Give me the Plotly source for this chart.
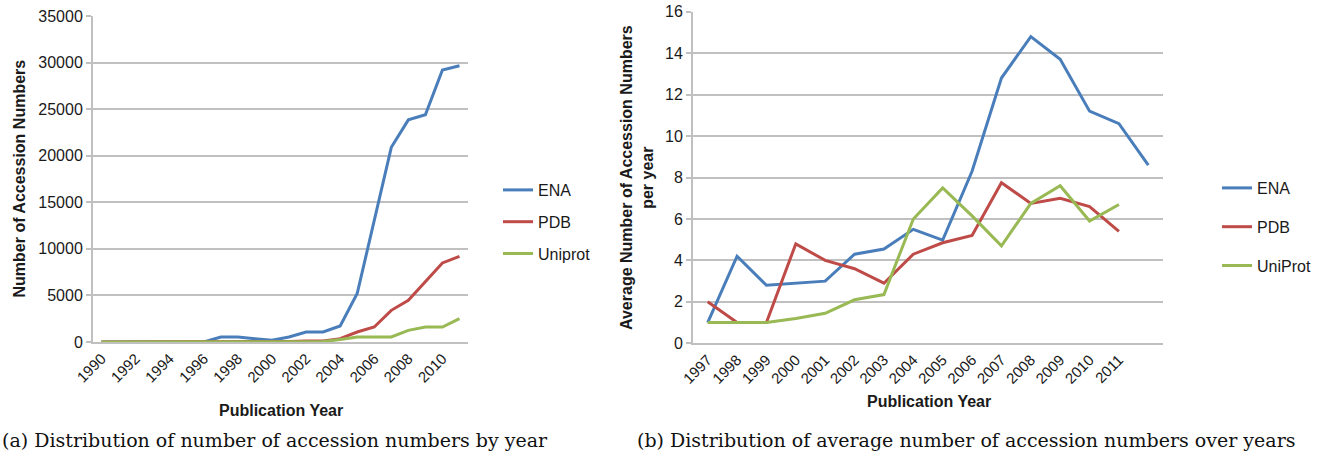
import plotly.graph_objects as go

# (a) total accession numbers per publication year
years_a = list(range(1990, 2012))
ena_total = [0, 0, 0, 0, 0, 0, 0, 540, 540, 360, 180, 540, 1070, 1070, 1720,
             5200, 13000, 20900, 23850, 24400, 29200, 29650]
pdb_total = [0, 0, 0, 0, 0, 0, 0, 20, 30, 40, 40, 60, 100, 120, 360,
             1070, 1610, 3400, 4480, 6440, 8490, 9200]
uniprot_total = [0, 0, 0, 0, 0, 0, 0, 10, 10, 10, 10, 20, 30, 50, 260,
                 540, 540, 540, 1250, 1610, 1610, 2510]
ticks_a = [str(y) for y in range(1990, 2012, 2)]

# (b) average accession numbers per article, per year
years_b = [str(y) for y in range(1997, 2012)]
ena_avg = [1.0, 4.2, 2.8, 2.9, 3.0, 4.3, 4.55, 5.5, 4.98, 8.3, 12.8, 14.8,
           13.7, 11.2, 10.6, 8.6]
pdb_avg = [2.0, 1.0, 1.0, 4.8, 4.0, 3.6, 2.9, 4.3, 4.85, 5.2, 7.75, 6.75,
           7.0, 6.6, 5.4]
uniprot_avg = [1.0, 1.0, 1.0, 1.2, 1.45, 2.1, 2.35, 6.0, 7.5, 6.15, 4.7,
               6.75, 7.6, 5.9, 6.7]

BLUE = "#4a7ebb"
RED = "#be4b48"
GREEN = "#98b954"
GRID = "#c0c0c0"
SANS = "Liberation Sans, Arial, sans-serif"
SERIF = "DejaVu Serif, serif"
W, H = 1321, 457

fig = go.Figure()

series_a = [("ENA", ena_total, BLUE), ("PDB", pdb_total, RED),
            ("Uniprot", uniprot_total, GREEN)]
for name, vals, col in series_a:
    fig.add_trace(go.Scatter(
        x=years_a[:len(vals)], y=vals, name=name, mode="lines",
        line=dict(color=col, width=3), xaxis="x", yaxis="y",
        legend="legend", legendgroup="a" + name))

idx_b = list(range(len(ena_avg)))
series_b = [("ENA", ena_avg, BLUE), ("PDB", pdb_avg, RED),
            ("UniProt", uniprot_avg, GREEN)]
for name, vals, col in series_b:
    fig.add_trace(go.Scatter(
        x=idx_b[:len(vals)], y=vals, name=name, mode="lines",
        line=dict(color=col, width=3), xaxis="x2", yaxis="y2",
        legend="legend2", legendgroup="b" + name))


def px_x(p):
    return p / W


def px_y(p):
    return 1 - p / H


common_x = dict(showgrid=False, showline=True, linecolor=GRID, linewidth=2,
                ticks="", tickangle=-45, automargin=False,
                tickfont=dict(family=SANS, size=15, color="#1a1a1a"),
                zeroline=False, fixedrange=True)
common_y = dict(showgrid=True, gridcolor=GRID, gridwidth=2, showline=True,
                linecolor=GRID, linewidth=2, ticks="outside", ticklen=5,
                tickcolor=GRID, tickwidth=2, automargin=False,
                tickformat="d",
                tickfont=dict(family=SANS, size=16, color="#1a1a1a"),
                zeroline=False, fixedrange=True)

legend_common = dict(font=dict(family=SANS, size=16, color="#1a1a1a"),
                     bgcolor="rgba(0,0,0,0)", itemwidth=30,
                     traceorder="grouped", xanchor="left", yanchor="top",
                     itemclick=False, itemdoubleclick=False)

fig.update_layout(
    width=W, height=H,
    margin=dict(l=0, r=0, t=0, b=0),
    paper_bgcolor="white", plot_bgcolor="white",
    showlegend=True,
    xaxis=dict(common_x, domain=[px_x(93), px_x(468)], anchor="y",
               range=[1989.5, 2011.5], tickmode="array",
               tickvals=[int(t) for t in ticks_a], ticktext=ticks_a),
    yaxis=dict(common_y, domain=[px_y(342), px_y(16)], anchor="x",
               range=[0, 35000], dtick=5000),
    xaxis2=dict(common_x, domain=[px_x(693), px_x(1163)], anchor="y2",
                range=[-0.5, len(ena_avg) - 0.5], tickmode="array",
                tickvals=list(range(len(years_b))), ticktext=years_b),
    yaxis2=dict(common_y, domain=[px_y(343.3), px_y(11.7)], anchor="x2",
                range=[0, 16], dtick=2),
    legend=dict(legend_common, x=px_x(498), y=px_y(173), tracegroupgap=8),
    legend2=dict(legend_common, x=px_x(1217), y=px_y(171), tracegroupgap=15),
)

title_font = dict(family=SANS, size=16, color="#1a1a1a")
annotations = [
    dict(text="<b>Number of Accession Numbers</b>", x=px_x(18.5), y=px_y(179),
         textangle=-90, font=title_font),
    dict(text="<b>Publication Year</b>", x=px_x(281), y=px_y(410),
         font=title_font),
    dict(text="<b>Average Number of Accession Numbers<br>per year</b>",
         x=px_x(637), y=px_y(178), textangle=-90, font=title_font),
    dict(text="<b>Publication Year</b>", x=px_x(929), y=px_y(401),
         font=title_font),
    dict(text="(a) Distribution of number of accession numbers by year",
         x=px_x(275), y=px_y(440),
         font=dict(family=SERIF, size=19, color="#111111")),
    dict(text="(b) Distribution of average number of accession numbers over years",
         x=px_x(966), y=px_y(440),
         font=dict(family=SERIF, size=19, color="#111111")),
]
for a in annotations:
    a.update(xref="paper", yref="paper", showarrow=False,
             xanchor="center", yanchor="middle")
fig.update_layout(annotations=annotations)

fig.write_html("out.html")
